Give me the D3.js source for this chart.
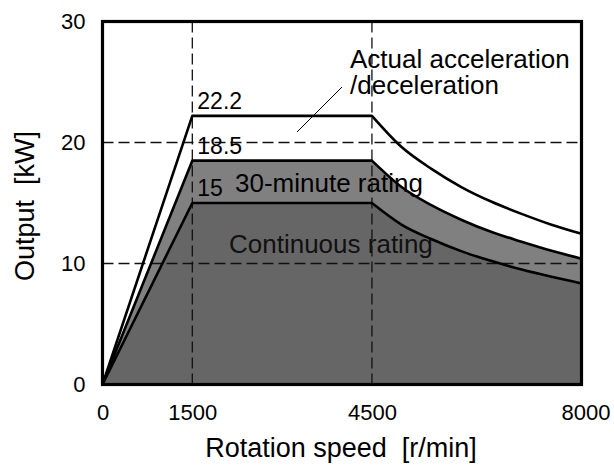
<!DOCTYPE html>
<html>
<head>
<meta charset="utf-8">
<script src="https://cdn.jsdelivr.net/npm/d3@7"></script>
<style>
  html, body { margin: 0; padding: 0; background: #fff; }
  svg { display: block; font-family: "Liberation Sans", Arial, sans-serif; }
  .tick text { font-size: 22px; fill: #000; }
  .pre { white-space: pre; }
</style>
</head>
<body>
<svg id="chart" width="614" height="468"></svg>
<script>
// output curves of the spindle motor
const speed       = [0, 1500, 4500, 5000, 5500, 6000, 6500, 7000, 7500, 8000];
const actualKW    = [0, 22.2, 22.2, 19.6, 17.8, 16.3, 15.1, 14.1, 13.2, 12.45];
const thirtyMinKW = [0, 18.5, 18.5, 16.3, 14.8, 13.6, 12.6, 11.8, 11.05, 10.4];
const contKW      = [0, 15.0, 15.0, 13.2, 12.0, 11.0, 10.2, 9.5, 8.9, 8.35];

const xTicks = [0, 1500, 4500, 8000];
const yTicks = [0, 10, 20, 30];
const xGrid = [1500, 4500];
const yGrid = [10, 20];
const cornerLabels = ["22.2", "18.5", "15"];

const svg = d3.select("#chart");
const x = d3.scaleLinear().domain([0, 8000]).range([102.5, 581.5]);
const y = d3.scaleLinear().domain([0, 30]).range([384.5, 21.5]);

const pts = (vals) => speed.map((s, i) => [s, vals[i]]);
const straight = d3.line().x((d) => x(d[0])).y((d) => y(d[1]));
const smooth = d3.line().x((d) => x(d[0])).y((d) => y(d[1])).curve(d3.curveMonotoneX);

// ramp + flat part are straight, the constant-power tail is a smooth curve
function curvePath(vals) {
  const p = pts(vals);
  return straight(p.slice(0, 3)) + smooth(p.slice(2)).replace(/^M/, "L");
}
function areaPath(vals) {
  return curvePath(vals) + `L${x(8000)},${y(0)}L${x(0)},${y(0)}Z`;
}

// filled regions
svg.append("path").attr("d", areaPath(thirtyMinKW)).attr("fill", "#808080");
svg.append("path").attr("d", areaPath(contKW)).attr("fill", "#666666");

// dashed reference lines
const grid = svg.append("g").attr("stroke", "#111").attr("stroke-width", 1.3)
  .attr("stroke-dasharray", "11,5");
xGrid.forEach((v) => grid.append("line")
  .attr("x1", x(v)).attr("x2", x(v)).attr("y1", y(30)).attr("y2", y(0)));
yGrid.forEach((v) => grid.append("line")
  .attr("x1", x(0)).attr("x2", x(8000)).attr("y1", y(v)).attr("y2", y(v)));

// value labels at the 1500 r/min corners
const lab = svg.append("g").attr("fill", "#000");
[actualKW, thirtyMinKW, contKW].forEach((vals, i) => lab.append("text")
  .attr("x", x(speed[1]) + 5).attr("y", y(vals[1]) - 7)
  .style("font-size", "23px").text(cornerLabels[i]));

lab.append("text").attr("x", 235).attr("y", 192).style("font-size", "26px").text("30-minute rating");
lab.append("text").attr("x", 229).attr("y", 253).style("font-size", "26px").attr("fill", "#111").text("Continuous rating");
lab.append("text").attr("x", 350).attr("y", 68).style("font-size", "26px").text("Actual acceleration");
lab.append("text").attr("x", 350).attr("y", 94).style("font-size", "26px").text("/deceleration");
svg.append("line").attr("x1", 297).attr("y1", 132).attr("x2", 342).attr("y2", 87)
  .attr("stroke", "#000").attr("stroke-width", 1);

// curves
[actualKW, thirtyMinKW, contKW].forEach((vals) => svg.append("path")
  .attr("d", curvePath(vals)).attr("fill", "none")
  .attr("stroke", "#000").attr("stroke-width", 2.6).attr("stroke-linejoin", "round"));

// frame
svg.append("rect").attr("x", x(0)).attr("y", y(30))
  .attr("width", x(8000) - x(0)).attr("height", y(0) - y(30))
  .attr("fill", "none").attr("stroke", "#000").attr("stroke-width", 3.2);

// axes
svg.append("g").attr("transform", `translate(0,${y(0)})`)
  .call(d3.axisBottom(x).tickValues(xTicks).tickSize(0).tickPadding(20).tickFormat(d3.format("d")))
  .call((g) => g.select(".domain").remove())
  .call((g) => g.selectAll(".tick text").attr("dx", (d) => (d === 8000 ? 4 : 0)));
svg.append("g").attr("transform", `translate(${x(0)},0)`)
  .call(d3.axisLeft(y).tickValues(yTicks).tickSize(0).tickPadding(17))
  .call((g) => g.select(".domain").remove());

svg.append("text").attr("class", "pre").attr("x", 341).attr("y", 457).attr("text-anchor", "middle")
  .style("font-size", "27px").text("Rotation speed  [r/min]");
svg.append("text").attr("class", "pre").attr("transform", "translate(34,206) rotate(-90)")
  .attr("text-anchor", "middle").style("font-size", "27px").text("Output  [kW]");
</script>
</body>
</html>
